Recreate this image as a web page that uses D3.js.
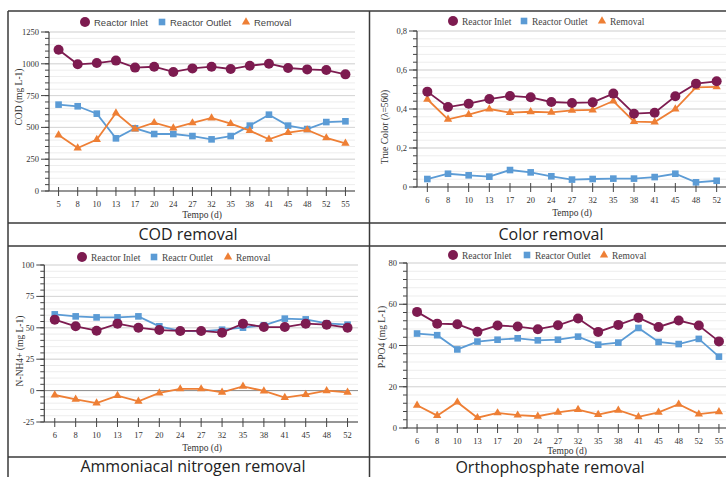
<!DOCTYPE html>
<html><head><meta charset="utf-8">
<script src="https://cdn.jsdelivr.net/npm/d3@7"></script>
<style>body{margin:0;background:#fff}svg{display:block}</style>
</head><body>
<svg id="c" width="726" height="477"></svg>
<script>
// ---------- data ----------
const codDays = ["5","8","10","13","17","20","24","27","32","35","38","41","45","48","52","55"];
const codInlet = [1111,996,1006,1025,970,977,936,964,977,959,985,1001,967,956,951,917];
const codOutlet = [679,666,608,414,493,448,448,432,406,432,514,600,514,487,542,548];
const codRemoval = [440,338,404,613,487,537,495,535,574,529,474,406,459,480,417,375];

const colorDays = ["6","8","10","13","17","20","24","27","32","35","38","41","45","48","52"];
const colorInlet = [0.489,0.410,0.427,0.451,0.467,0.460,0.436,0.431,0.434,0.479,0.376,0.381,0.465,0.530,0.542];
const colorOutlet = [0.041,0.068,0.060,0.053,0.087,0.075,0.055,0.038,0.041,0.043,0.043,0.051,0.068,0.024,0.032];
const colorRemoval = [0.450,0.347,0.371,0.400,0.381,0.386,0.383,0.393,0.395,0.441,0.335,0.333,0.400,0.511,0.513];

const nhDays = ["6","8","10","13","17","20","24","27","32","35","38","41","45","48","52"];
const nhInlet = [56.5,51.2,47.7,53.3,50.1,48.2,47.5,47.5,46.1,53.3,50.6,50.6,53.3,52.5,50.1];
const nhOutlet = [60.7,59.1,58.3,58.3,59.1,51.2,47.5,47.2,48.5,50.1,52.0,57.3,56.7,53.6,52.5];
const nhRemoval = [-3.5,-7.0,-9.9,-4.0,-8.5,-1.9,1.3,1.3,-1.4,3.4,-0.3,-5.6,-3.2,-0.1,-1.4];

const poDays = ["6","8","10","13","17","20","24","27","32","35","38","41","45","48","52","55"];
const poInlet = [56.3,50.6,50.3,46.7,49.7,49.2,47.9,49.8,53.1,46.6,50.0,53.5,49.0,52.1,49.7,42.0];
const poOutlet = [45.8,45.0,38.1,41.9,42.8,43.5,42.5,42.8,44.3,40.4,41.4,48.5,41.7,40.7,43.2,34.6];
const poRemoval = [11.0,6.0,12.5,5.0,7.3,6.2,5.7,7.6,8.9,6.5,8.6,5.4,7.6,11.5,6.7,7.8];

const codTicks = [0,250,500,750,1000,1250];
const colorTicks = [0,0.2,0.4,0.6,0.8];
const nhTicks = [-25,0,25,50,75,100];
const poTicks = [0,20,40,60,80];

// ---------- styles ----------
const C_IN = "#7d1b50", C_OUT = "#5b9bd5", C_REM = "#ee7f35";
const SERIF = "'Liberation Serif', 'DejaVu Serif', serif";
const SANS = "'Liberation Sans', Arial, sans-serif";
const CAP = "'Open Sans', sans-serif";

const svg = d3.select("#c");
svg.append("rect").attr("width",726).attr("height",477).attr("fill","#fff");

function panel(o){
  const g = svg.append("g");
  const x = d3.scalePoint().domain(o.days).range([o.left,o.right]).padding(0.5);
  const y = d3.scaleLinear().domain(o.domain).range([o.bottom,o.top]);
  const minor = d3.range(o.domain[0], o.domain[1]+o.minor/2, o.minor);
  g.selectAll(null).data(minor).join("line")
    .attr("x1",o.left).attr("x2",o.right)
    .attr("y1",d=>y(d)).attr("y2",d=>y(d))
    .attr("stroke","#ededed").attr("stroke-width",1);
  g.selectAll(null).data(o.ticks).join("line")
    .attr("x1",o.left).attr("x2",o.right)
    .attr("y1",d=>y(d)).attr("y2",d=>y(d))
    .attr("stroke",d=> (d===0 && o.domain[0]<0) ? "#8a8a8a" : "#d6d6d6").attr("stroke-width",1);
  g.append("line").attr("x1",o.left).attr("x2",o.left).attr("y1",o.top).attr("y2",o.bottom)
    .attr("stroke","#444").attr("stroke-width",1.2);
  g.selectAll(null).data(minor).join("line")
    .attr("x1",o.left-4).attr("x2",o.left)
    .attr("y1",d=>y(d)).attr("y2",d=>y(d)).attr("stroke","#444");
  g.selectAll(null).data(o.ticks).join("line")
    .attr("x1",o.left-8).attr("x2",o.left)
    .attr("y1",d=>y(d)).attr("y2",d=>y(d)).attr("stroke","#444");
  g.selectAll(null).data(o.ticks).join("text")
    .attr("x",o.left-10).attr("y",d=>y(d)+3)
    .attr("text-anchor","end").attr("font-family",SERIF).attr("font-size",8.5).attr("fill","#333")
    .text(o.fmt);
  g.append("line").attr("x1",o.left).attr("x2",o.right).attr("y1",o.bottom).attr("y2",o.bottom)
    .attr("stroke","#444").attr("stroke-width",1.2);
  g.selectAll(null).data(o.days).join("line")
    .attr("x1",d=>x(d)).attr("x2",d=>x(d)).attr("y1",o.bottom-4).attr("y2",o.bottom+5)
    .attr("stroke","#444");
  g.selectAll(null).data(o.days).join("text")
    .attr("x",d=>x(d)).attr("y",o.bottom+16)
    .attr("text-anchor","middle").attr("font-family",SERIF).attr("font-size",8.5).attr("fill","#333")
    .text(d=>d);
  g.append("text").attr("x",o.xt[0]).attr("y",o.xt[1]).attr("text-anchor","middle")
    .attr("font-family",SERIF).attr("font-size",9.5).attr("fill","#333").text("Tempo (d)");
  g.append("text").attr("transform",`translate(${o.yt[0]},${o.yt[1]}) rotate(-90)`).attr("text-anchor","middle")
    .attr("font-family",SERIF).attr("font-size",9.5).attr("fill","#333").text(o.ytitle);
  const series = [
    {v:o.outlet,c:C_OUT,m:"sq"},
    {v:o.removal,c:C_REM,m:"tri"},
    {v:o.inlet,c:C_IN,m:"circ"}
  ];
  series.forEach(s=>{
    const line = d3.line().x((d,i)=>x(o.days[i])).y(d=>y(d));
    g.append("path").datum(s.v).attr("d",line).attr("fill","none").attr("stroke",s.c).attr("stroke-width",1.8);
    const pts = s.v.map((d,i)=>[x(o.days[i]),y(d)]);
    drawMarks(g,pts,s.m,s.c);
  });
  const lf = o.legendFont;
  const L = o.legend;
  drawMarks(g,[[L.c,L.y]],"circ",C_IN);
  drawMarks(g,[[L.s,L.y]],"sq",C_OUT);
  drawMarks(g,[[L.t,L.y]],"tri",C_REM);
  const names = o.names;
  [[L.c+9,names[0]],[L.s+8,names[1]],[L.t+8,names[2]]].forEach(([tx,t])=>{
    g.append("text").attr("x",tx).attr("y",L.y+3.5).attr("font-family",lf).attr("font-size",9.5)
      .attr("fill","#444").text(t);
  });
  svg.append("text").attr("x",o.cap[0]).attr("y",o.cap[1]).attr("text-anchor","middle")
    .attr("font-family",CAP).attr("font-size",16).attr("fill","#222").text(o.caption);
}

function drawMarks(g,pts,m,c){
  if(m==="circ"){
    g.selectAll(null).data(pts).join("circle").attr("cx",d=>d[0]).attr("cy",d=>d[1]).attr("r",5).attr("fill",c);
  } else if(m==="sq"){
    g.selectAll(null).data(pts).join("rect").attr("x",d=>d[0]-3.3).attr("y",d=>d[1]-3.3)
      .attr("width",6.6).attr("height",6.6).attr("fill",c);
  } else {
    const sym = d3.symbol().type(d3.symbolTriangle).size(30);
    g.selectAll(null).data(pts).join("path").attr("transform",d=>`translate(${d[0]},${d[1]})`)
      .attr("d",sym).attr("fill",c);
  }
}

const comma = d=> d===0 ? "0" : d3.format(".1f")(d).replace(".",",");

panel({days:codDays,inlet:codInlet,outlet:codOutlet,removal:codRemoval,
  left:49,right:355,top:32,bottom:191,domain:[0,1250],ticks:codTicks,minor:50,fmt:d=>d,
  xt:[202,218],yt:[22,97],ytitle:"COD (mg L-1)",
  legend:{y:22,c:85,s:162,t:246},legendFont:SANS,names:["Reactor Inlet","Reactor Outlet","Removal"],
  cap:[188,240],caption:"COD removal"});

panel({days:colorDays,inlet:colorInlet,outlet:colorOutlet,removal:colorRemoval,
  left:417,right:727,top:31,bottom:187,domain:[0,0.8],ticks:colorTicks,minor:0.04,fmt:comma,
  xt:[572,216],yt:[388,127],ytitle:"True Color (λ=560)",
  legend:{y:21,c:453,s:524,t:602},legendFont:SERIF,names:["Reactor Inlet","Reactor Outlet","Removal"],
  cap:[551,240],caption:"Color removal"});

panel({days:nhDays,inlet:nhInlet,outlet:nhOutlet,removal:nhRemoval,
  left:44.3,right:358,top:265,bottom:422,domain:[-25,100],ticks:nhTicks,minor:5,fmt:d=>d,
  xt:[202,451],yt:[23,351],ytitle:"N-NH4+ (mg L-1)",
  legend:{y:257,c:82,s:154,t:228},legendFont:SERIF,names:["Reactor Inlet","Reactr Outlet","Removal"],
  cap:[193,472],caption:"Ammoniacal nitrogen removal"});

panel({days:poDays,inlet:poInlet,outlet:poOutlet,removal:poRemoval,
  left:407,right:729,top:263,bottom:428,domain:[0,80],ticks:poTicks,minor:4,fmt:d=>d,
  xt:[567,453.5],yt:[385,337],ytitle:"P-PO4 (mg L-1)",
  legend:{y:255,c:453,s:527,t:604},legendFont:SERIF,names:["Reactor Inlet","Reactor Outlet","Removal"],
  cap:[550,473],caption:"Orthophosphate removal"});

const frame = [
  [8,11,726,11],[8,11,8,477],[369.5,11,369.5,477],
  [8,223,726,223],[8,246,726,246],[8,457,726,457]
];
svg.selectAll(null).data(frame).join("line")
  .attr("x1",d=>d[0]).attr("y1",d=>d[1]).attr("x2",d=>d[2]).attr("y2",d=>d[3])
  .attr("stroke","#3a3a3a").attr("stroke-width",1.5);
</script>
</body></html>
